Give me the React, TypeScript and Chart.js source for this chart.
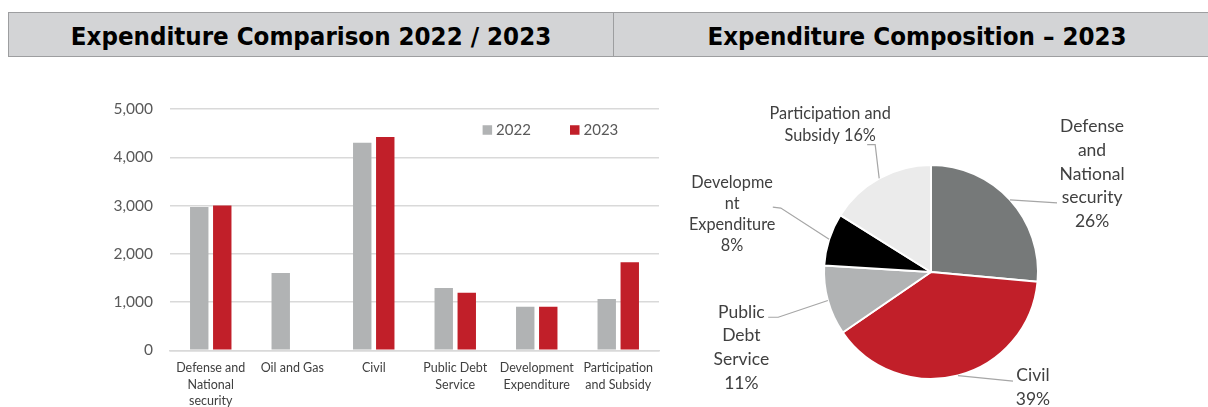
import React, { useEffect, useRef } from "react";
import { Chart, registerables } from "chart.js";

Chart.register(...registerables);

// ---------- data ----------
const categories: string[][] = [
  ["Defense and", "National", "security"],
  ["Oil and Gas"],
  ["Civil"],
  ["Public Debt", "Service"],
  ["Development", "Expenditure"],
  ["Participation", "and Subsidy"],
];
const seriesNames = ["2022", "2023"];
const values2022 = [2970, 1600, 4300, 1290, 900, 1065];
const values2023 = [3000, 0, 4420, 1195, 900, 1825];
const yTickValues = [0, 1000, 2000, 3000, 4000, 5000];

const pieCategories: string[][] = [
  ["Defense", "and", "National", "security", "{p}"],
  ["Civil", "{p}"],
  ["Public", "Debt", "Service", "{p}"],
  ["Developme", "nt", "Expenditure", "{p}"],
  ["Participation and", "Subsidy {p}"],
];
const pieValues = [3000, 4420, 1195, 900, 1825];

const leftTitle = "Expenditure Comparison 2022 / 2023";
const rightTitle = "Expenditure Composition – 2023";

// ---------- styles ----------
const FONT = "Lato, 'Open Sans', sans-serif";
const barColors = ["#b1b3b4", "#c11f29"];
const pieColors = ["#767979", "#c11f29", "#b1b3b4", "#000000", "#ebebeb"];

// label offsets relative to the slice's outer edge point at its mid angle
const pieLabelLayout = [
  { size: 17.5, lh: 23.7, text: [82, -26], path: [[47, 3]] },
  { size: 17.5, lh: 24.3, text: [75, 12], path: [[55, 5.5]] },
  { size: 17.5, lh: 23.7, text: [-86.5, 47], path: [[-49.7, 16.7], [-59.7, 16.7]] },
  { size: 16.3, lh: 21, text: [-97, -25.5], path: [[-48.3, -31.3], [-56.3, -32.3]] },
  { size: 16.3, lh: 21.7, text: [-49, -53.8], path: [[-4, -33.7], [-12, -33.7]] },
];

const legendLayout = { x: 312.6, y: 21, gap: 87.4, box: 9.5, textGap: 4, size: 15 };

const barLegendPlugin = {
  id: "barLegend",
  afterDraw(chart: any) {
    const { ctx, chartArea } = chart;
    ctx.save();
    chart.data.datasets.forEach((ds: any, i: number) => {
      const x = chartArea.left + legendLayout.x + i * legendLayout.gap;
      const y = chartArea.top + legendLayout.y;
      ctx.fillStyle = ds.backgroundColor;
      ctx.fillRect(x, y - legendLayout.box / 2, legendLayout.box, legendLayout.box);
      ctx.fillStyle = "#595959";
      ctx.font = `${legendLayout.size}px ${FONT}`;
      ctx.textBaseline = "middle";
      ctx.textAlign = "left";
      ctx.fillText(ds.label, x + legendLayout.box + legendLayout.textGap, y + 0.5);
    });
    ctx.restore();
  },
};

const pieLabelPlugin = {
  id: "pieLabels",
  afterDraw(chart: any) {
    const { ctx } = chart;
    const meta = chart.getDatasetMeta(0);
    const data: number[] = chart.data.datasets[0].data;
    const total = data.reduce((a, b) => a + b, 0);
    ctx.save();
    meta.data.forEach((arc: any, i: number) => {
      const { x, y, outerRadius, startAngle, endAngle } = arc.getProps(
        ["x", "y", "outerRadius", "startAngle", "endAngle"],
        true
      );
      const mid = (startAngle + endAngle) / 2;
      const ex = x + Math.cos(mid) * outerRadius;
      const ey = y + Math.sin(mid) * outerRadius;
      const lay = pieLabelLayout[i];
      // leader line
      ctx.strokeStyle = "#a6a6a6";
      ctx.lineWidth = 1.2;
      ctx.beginPath();
      ctx.moveTo(ex, ey);
      lay.path.forEach((p) => ctx.lineTo(ex + p[0], ey + p[1]));
      ctx.stroke();
      // text
      const pct = Math.round((data[i] / total) * 100) + "%";
      const lines = (chart.data.labels[i] as string[]).map((l) => l.replace("{p}", pct));
      ctx.fillStyle = "#404040";
      ctx.font = `${lay.size}px ${FONT}`;
      ctx.textAlign = "center";
      ctx.textBaseline = "middle";
      const cx = ex + lay.text[0];
      const cy = ey + lay.text[1];
      const top = cy - ((lines.length - 1) * lay.lh) / 2;
      lines.forEach((l, k) => ctx.fillText(l, cx, top + k * lay.lh));
    });
    ctx.restore();
  },
};

function BarChart() {
  const ref = useRef<HTMLCanvasElement>(null);
  useEffect(() => {
    const chart = new Chart(ref.current!, {
      type: "bar",
      data: {
        labels: categories,
        datasets: [
          { label: seriesNames[0], data: values2022, backgroundColor: barColors[0], borderWidth: 0 },
          { label: seriesNames[1], data: values2023, backgroundColor: barColors[1], borderWidth: 0 },
        ],
      },
      options: {
        animation: false,
        responsive: false,
        devicePixelRatio: 1,
        layout: { padding: { top: 49, right: 21, left: 0, bottom: 0 } },
        datasets: { bar: { categoryPercentage: 0.565, barPercentage: 0.8 } },
        plugins: { legend: { display: false }, tooltip: { enabled: false } },
        scales: {
          x: {
            grid: { display: false, drawTicks: false },
            border: { display: true, color: "#d9d9d9", width: 1.5 },
            ticks: {
              color: "#404040",
              font: { family: FONT, size: 12.5, lineHeight: 1.3 },
              padding: 10,
              maxRotation: 0,
              autoSkip: false,
            },
            afterFit: (s: any) => {
              s.height = 56.7;
            },
          },
          y: {
            min: 0,
            max: 5000,
            afterBuildTicks: (s: any) => {
              s.ticks = yTickValues.map((v) => ({ value: v }));
            },
            grid: { color: "#d9d9d9", lineWidth: 1.5, drawTicks: false },
            border: { display: false },
            ticks: {
              color: "#595959",
              font: { family: FONT, size: 15.5 },
              padding: 17,
              callback: (v: any) => Number(v).toLocaleString("en-US"),
            },
            afterFit: (s: any) => {
              s.width = 170;
            },
          },
        },
      },
      plugins: [barLegendPlugin],
    } as any);
    return () => chart.destroy();
  }, []);
  return (
    <canvas
      ref={ref}
      width={680}
      height={347}
      style={{ position: "absolute", left: 0, top: 60, width: 680, height: 347 }}
    />
  );
}

function PieChart() {
  const ref = useRef<HTMLCanvasElement>(null);
  useEffect(() => {
    const chart = new Chart(ref.current!, {
      type: "pie",
      data: {
        labels: pieCategories,
        datasets: [
          {
            data: pieValues,
            backgroundColor: pieColors,
            borderColor: "#ffffff",
            borderWidth: 2,
          },
        ],
      },
      options: {
        animation: false,
        responsive: false,
        devicePixelRatio: 1,
        layout: { padding: { left: 143, top: 104, right: 169, bottom: 27 } },
        plugins: { legend: { display: false }, tooltip: { enabled: false } },
      },
      plugins: [pieLabelPlugin],
    } as any);
    return () => chart.destroy();
  }, []);
  return (
    <canvas
      ref={ref}
      width={528}
      height={347}
      style={{ position: "absolute", left: 680, top: 60, width: 528, height: 347 }}
    />
  );
}

const titleFont = "'DejaVu Sans Condensed', 'DejaVu Sans', sans-serif";

function HeaderCell({ left, width, text }: { left: number; width: number; text: string }) {
  return (
    <div
      style={{
        position: "absolute",
        left,
        top: 12,
        width,
        height: 45,
        boxSizing: "border-box",
        border: "1px solid #9d9ea0",
        background: "#d3d4d6",
        display: "flex",
        alignItems: "center",
        justifyContent: "center",
        paddingTop: 2,
        fontFamily: titleFont,
        fontWeight: 700,
        fontSize: 25.6,
        color: "#000",
        whiteSpace: "nowrap",
      }}
    >
      {text}
    </div>
  );
}

export default function App() {
  return (
    <div
      style={{
        position: "fixed",
        left: 0,
        top: 0,
        width: 1208,
        height: 407,
        overflow: "hidden",
        background: "#ffffff",
      }}
    >
      <HeaderCell left={8} width={606} text={leftTitle} />
      <HeaderCell left={613} width={608} text={rightTitle} />
      <BarChart />
      <PieChart />
    </div>
  );
}
